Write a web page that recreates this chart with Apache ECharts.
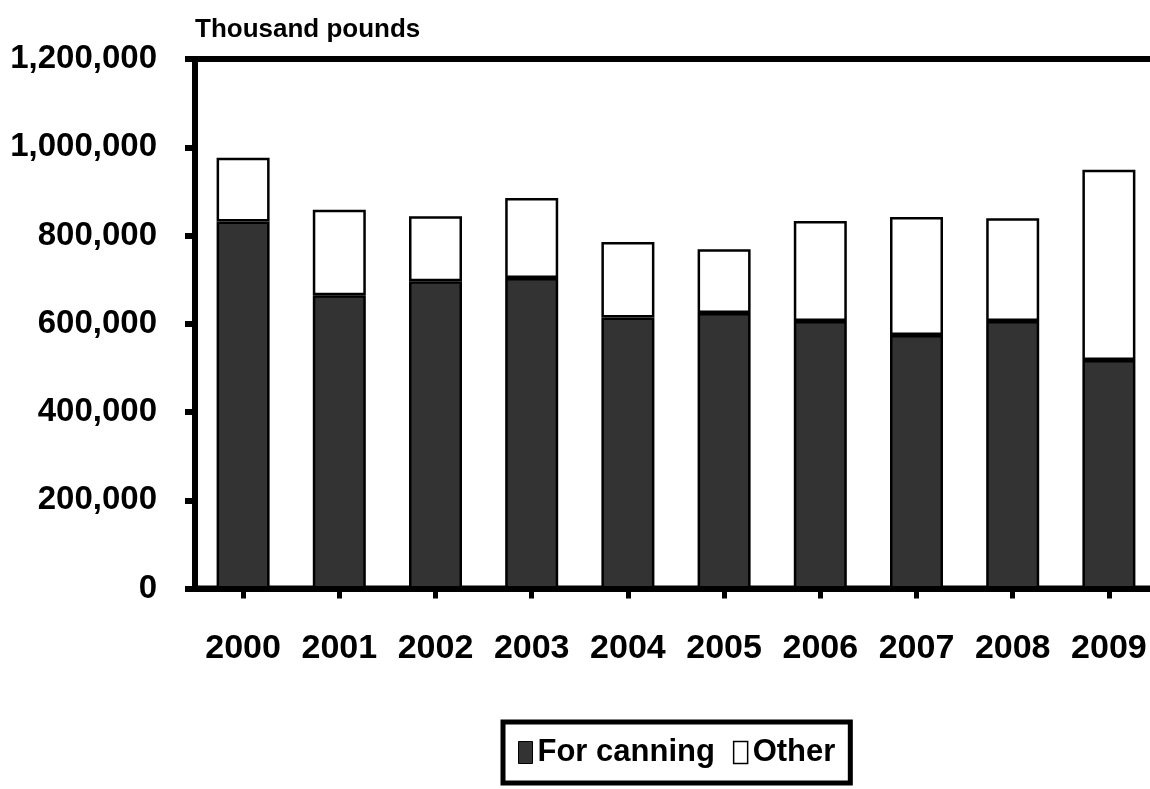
<!DOCTYPE html>
<html>
<head>
<meta charset="utf-8">
<script src="https://cdn.jsdelivr.net/npm/echarts@6/dist/echarts.min.js"></script>
<style>
html,body{margin:0;padding:0;background:#fff;overflow:hidden;}
#chart{width:1170px;height:789px;}
</style>
</head>
<body>
<div id="chart"></div>
<script>
const years = ['2000','2001','2002','2003','2004','2005','2006','2007','2008','2009'];
const forCanning = [832000, 664500, 696200, 703700, 614000, 624500, 606300, 574600, 606300, 518000];
const other = [144300, 194100, 147200, 181100, 171200, 144200, 226500, 267200, 232600, 431100];
const yTicks = [0, 200000, 400000, 600000, 800000, 1000000, 1200000];

const sans = "'Liberation Sans',Arial,sans-serif";

const chart = echarts.init(document.getElementById('chart'), null, {renderer:'canvas'});
chart.setOption({
  animation: false,
  backgroundColor: '#ffffff',
  title: {
    text: 'Thousand pounds',
    left: 190, top: 12,
    textStyle: {fontFamily: sans, fontWeight: 'bold', fontSize: 26, color: '#000'}
  },
  grid: {
    left: 195, top: 59, width: 962, height: 529.5,
    show: true, borderColor: '#000', borderWidth: 6, backgroundColor: 'transparent'
  },
  legend: {
    data: [
      {name: 'For canning', itemStyle: {color: '#333333', borderColor: '#000', borderWidth: 1}},
      {name: 'Other', itemStyle: {color: '#ffffff', borderColor: '#000', borderWidth: 1.5}}
    ],
    left: 503, top: 722,
    orient: 'horizontal',
    itemWidth: 14, itemHeight: 22, itemGap: 18,
    icon: 'rect',
    padding: [15, 15, 15, 15],
    borderColor: '#000', borderWidth: 5,
    textStyle: {fontFamily: sans, fontWeight: 'bold', fontSize: 31, color: '#000'}
  },
  xAxis: {
    type: 'category',
    data: years,
    boundaryGap: true,
    axisLine: {show: true, lineStyle: {color: '#000', width: 6}},
    axisTick: {show: true, alignWithLabel: true, length: 10, lineStyle: {color: '#000', width: 5}},
    axisLabel: {margin: 43, fontFamily: sans, fontWeight: 'bold', fontSize: 34, color: '#000', interval: 0},
    splitLine: {show: false}
  },
  yAxis: {
    type: 'value',
    min: yTicks[0], max: yTicks[yTicks.length-1], interval: 200000,
    axisLine: {show: true, lineStyle: {color: '#000', width: 6}},
    axisTick: {show: true, inside: false, length: 10, lineStyle: {color: '#000', width: 6}},
    axisLabel: {
      margin: 38, fontFamily: sans, fontWeight: 'bold', fontSize: 33, color: '#000',
      formatter: v => v.toLocaleString('en-US')
    },
    splitLine: {show: false}
  },
  series: [
    {
      name: 'For canning', type: 'bar', stack: 'total', data: forCanning,
      barWidth: 53,
      itemStyle: {color: '#333333', borderColor: '#000', borderWidth: 2.5}
    },
    {
      name: 'Other', type: 'bar', stack: 'total', data: other,
      barWidth: 53,
      itemStyle: {color: '#ffffff', borderColor: '#000', borderWidth: 2.5}
    }
  ]
});
</script>
</body>
</html>
